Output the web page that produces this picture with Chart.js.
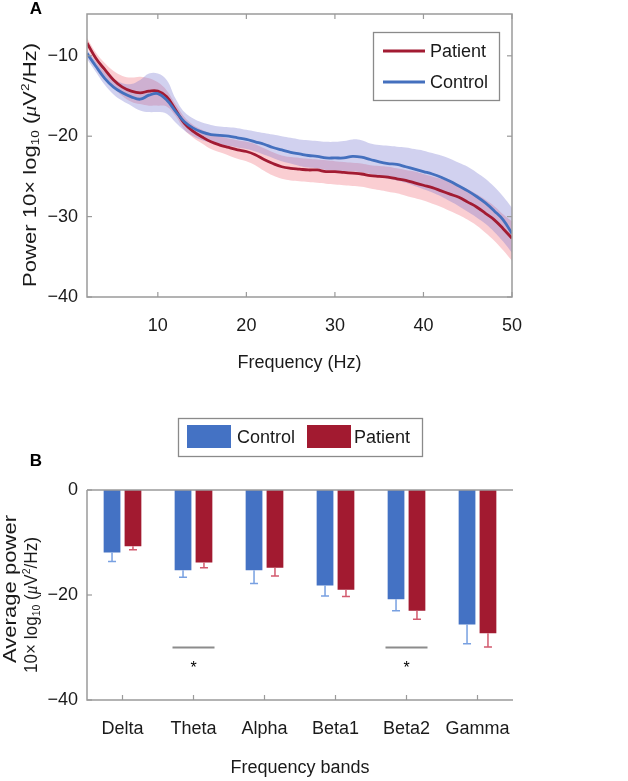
<!DOCTYPE html>
<html><head><meta charset="utf-8">
<script src="https://cdn.jsdelivr.net/npm/chart.js@4.4.0/dist/chart.umd.min.js"></script>
<style>
html,body{margin:0;padding:0;background:#fff;}
#wrapA{position:absolute;left:0;top:0;width:628px;height:395px;}
#wrapB{position:absolute;left:0;top:400px;width:628px;height:381px;}
</style></head><body>
<div id="wrapA"><canvas id="cA" width="628" height="395"></canvas></div>
<div id="wrapB"><canvas id="cB" width="628" height="381"></canvas></div>
<script>
// ---------- Panel A data ----------
const freqs = [2,3,4,5,6,7,8,9,10,11,12,13,14,15,16,17,18,19,20,21,22,23,24,25,26,27,28,29,30,31,32,33,34,35,36,37,38,39,40,41,42,43,44,45,46,47,48,49,50];
const patientMean = [-8.4,-10.3,-11.7,-13.0,-13.9,-14.4,-14.6,-14.4,-14.4,-15.1,-16.7,-18.4,-19.4,-20.1,-20.7,-21.1,-21.4,-21.7,-21.9,-22.3,-22.9,-23.4,-23.8,-24.0,-24.1,-24.2,-24.2,-24.4,-24.4,-24.5,-24.6,-24.7,-24.9,-25.0,-25.1,-25.3,-25.5,-25.8,-26.1,-26.4,-26.8,-27.2,-27.6,-28.2,-28.8,-29.6,-30.4,-31.5,-32.7];
const patientUpper = [-7.8,-9.6,-10.9,-11.9,-12.5,-12.7,-12.6,-12.8,-13.3,-14.3,-16.0,-17.6,-18.6,-19.2,-19.7,-20.0,-20.3,-20.5,-20.7,-21.0,-21.5,-22.0,-22.4,-22.6,-22.7,-22.8,-22.9,-23.0,-23.1,-23.2,-23.3,-23.4,-23.6,-23.7,-23.8,-24.0,-24.2,-24.4,-24.7,-25.0,-25.3,-25.7,-26.1,-26.6,-27.2,-27.9,-28.7,-29.7,-30.6];
const patientLower = [-9.0,-11.0,-12.5,-13.9,-15.0,-15.7,-16.0,-16.2,-16.2,-16.3,-17.5,-19.2,-20.2,-20.9,-21.6,-22.0,-22.4,-22.8,-23.1,-23.6,-24.3,-24.9,-25.3,-25.5,-25.6,-25.7,-25.8,-25.9,-26.0,-26.1,-26.2,-26.3,-26.5,-26.7,-26.9,-27.1,-27.4,-27.7,-28.0,-28.4,-28.8,-29.3,-29.8,-30.4,-31.1,-32.0,-33.0,-34.2,-35.5];
const controlMean = [-9.7,-11.3,-12.8,-13.9,-14.6,-15.1,-15.4,-14.9,-14.7,-15.5,-16.9,-18.2,-19.0,-19.5,-19.8,-19.9,-20.0,-20.2,-20.4,-20.7,-21.0,-21.4,-21.7,-22.0,-22.2,-22.4,-22.5,-22.7,-22.7,-22.7,-22.5,-22.6,-22.9,-23.2,-23.4,-23.5,-23.8,-24.1,-24.4,-24.7,-25.1,-25.6,-26.2,-26.8,-27.5,-28.3,-29.3,-30.4,-32.1];
const controlUpper = [-9.2,-10.7,-12.0,-12.9,-13.4,-13.5,-13.0,-12.2,-12.2,-13.0,-15.3,-17.0,-17.8,-18.3,-18.6,-18.8,-18.9,-19.0,-19.2,-19.4,-19.6,-19.8,-20.0,-20.2,-20.4,-20.5,-20.6,-20.7,-20.7,-20.6,-20.4,-20.5,-20.9,-21.1,-21.2,-21.3,-21.4,-21.6,-21.8,-22.1,-22.4,-22.8,-23.3,-23.8,-24.5,-25.3,-26.3,-27.5,-28.9];
const controlLower = [-10.4,-12.0,-13.6,-14.8,-15.6,-16.2,-16.8,-17.0,-17.0,-17.2,-18.3,-19.3,-20.0,-20.5,-20.8,-21.0,-21.2,-21.4,-21.6,-21.9,-22.3,-22.7,-23.1,-23.4,-23.7,-23.9,-24.0,-24.2,-24.3,-24.4,-24.4,-24.5,-24.7,-25.0,-25.3,-25.5,-25.8,-26.2,-26.6,-27.0,-27.5,-28.1,-28.7,-29.4,-30.1,-30.9,-31.9,-33.1,-34.5];
const xTicksA = [10,20,30,40,50];
const yTicksA = [-40,-30,-20,-10];

// ---------- Panel B data ----------
const bandLabels = ['Delta','Theta','Alpha','Beta1','Beta2','Gamma'];
const controlPower = [-11.9,-15.3,-15.3,-18.2,-20.8,-25.6];
const controlErr = [1.7,1.3,2.5,2.0,2.2,3.7];
const patientPower = [-10.7,-13.8,-14.8,-19.0,-23.0,-27.3];
const patientErr = [0.7,1.0,1.6,1.3,1.6,2.6];
const sigBands = ['Theta','Beta2'];
const sigLineLevel = -30;
const sigStarLevel = -33.5;
const yTicksB = [-40,-20,0];

// ---------- styling ----------
const FF = '"Liberation Sans", Arial, Helvetica, sans-serif';
const FS = '"Liberation Serif", "DejaVu Serif", serif';
const RED = 'rgb(162,27,50)';
const BLUE = 'rgb(68,112,190)';
const BAR_BLUE = 'rgb(68,114,196)';
const BAR_RED = 'rgb(162,26,48)';
const AXIS = '#9a9a9a';
const TXT = '#1a1a1a';
const fmt = v => (v < 0 ? '\u2212' + Math.abs(v) : String(v));
const pts = arr => arr.map((y,i)=>({x:freqs[i], y}));

// rich rotated title: segments [text, kind]
const unitSegs = [['10\u00d7 log',''],['10','sub'],[' (',''],['\u03bc','it'],['V',''],['2','sup'],['/Hz)','']];
function drawRotatedRich(ctx, segs, cx, cy, size, targetLen){
  ctx.save();
  const fontOf = k => k==='sub'||k==='sup' ? (Math.round(size*0.62))+'px '+FF : (k==='it' ? 'italic '+size+'px '+FS : size+'px '+FF);
  let w = 0;
  segs.forEach(s=>{ ctx.font = fontOf(s[1]); w += ctx.measureText(s[0]).width; });
  const sx = targetLen / w;
  ctx.translate(cx, cy); ctx.rotate(-Math.PI/2); ctx.scale(sx, 1);
  let x = -w/2;
  ctx.fillStyle = TXT; ctx.textBaseline = 'middle'; ctx.textAlign = 'left';
  segs.forEach(s=>{
    ctx.font = fontOf(s[1]);
    const dy = s[1]==='sub' ? size*0.28 : (s[1]==='sup' ? -size*0.3 : 0);
    ctx.fillText(s[0], x, dy);
    x += ctx.measureText(s[0]).width;
  });
  ctx.restore();
}

function inwardTicks(ctx, scale, len, side, area){
  ctx.save(); ctx.strokeStyle = AXIS; ctx.lineWidth = 1.2;
  scale.ticks.forEach(t=>{
    const p = scale.getPixelForValue(t.value);
    ctx.beginPath();
    if (side==='left'){ ctx.moveTo(area.left, p); ctx.lineTo(area.left+len, p); }
    if (side==='right'){ ctx.moveTo(area.right, p); ctx.lineTo(area.right-len, p); }
    if (side==='bottom'){ ctx.moveTo(p, area.bottom); ctx.lineTo(p, area.bottom-len); }
    if (side==='top'){ ctx.moveTo(p, area.top); ctx.lineTo(p, area.top+len); }
    ctx.stroke();
  });
  ctx.restore();
}

const frameA = {
  id:'frameA',
  afterDatasetsDraw(chart){
    const {ctx, chartArea:a, scales} = chart;
    ctx.save();
    ctx.strokeStyle = AXIS; ctx.lineWidth = 1.5;
    ctx.strokeRect(a.left, a.top, a.right-a.left, a.bottom-a.top);
    ctx.restore();
    inwardTicks(ctx, scales.y, 5, 'left', a);
    inwardTicks(ctx, scales.y, 5, 'right', a);
    inwardTicks(ctx, scales.x, 5, 'bottom', a);
    inwardTicks(ctx, scales.x, 5, 'top', a);
    // legend
    ctx.save();
    const lx = 373.5, ly = 32.5, lw = 126, lh = 68;
    ctx.fillStyle = '#fff'; ctx.fillRect(lx, ly, lw, lh);
    ctx.strokeStyle = '#8a8a8a'; ctx.lineWidth = 1.3; ctx.strokeRect(lx, ly, lw, lh);
    const items = chart.data.datasets.filter(d=>d.legendItem).sort((p,q)=>p.legendItem-q.legendItem);
    items.forEach((d,i)=>{
      const y = 51 + i*31;
      ctx.strokeStyle = d.borderColor; ctx.lineWidth = 3;
      ctx.beginPath(); ctx.moveTo(383, y); ctx.lineTo(425, y); ctx.stroke();
      ctx.fillStyle = TXT; ctx.font = '18px ' + FF; ctx.textBaseline = 'middle'; ctx.textAlign='left';
      ctx.fillText(d.label, 430, y+1);
    });
    // panel letter
    ctx.fillStyle = '#000'; ctx.font = 'bold 17px ' + FF; ctx.textAlign='center'; ctx.textBaseline='middle';
    ctx.fillText('A', 36, 9);
    ctx.restore();
    // y title
    drawRotatedRich(ctx, [['Power ','']].concat(unitSegs), 31, 165, 18, 244);
  }
};

new Chart(document.getElementById('cA'), {
  type:'line',
  data:{ datasets:[
    {label:'Control', data:pts(controlMean), borderColor:BLUE, borderWidth:2.8, pointRadius:0, fill:false, tension:0.4, order:0, legendItem:2},
    {label:'Patient', data:pts(patientMean), borderColor:RED, borderWidth:2.8, pointRadius:0, fill:false, tension:0.4, order:1, legendItem:1},
    {label:'Control upper', data:pts(controlUpper), borderWidth:0, pointRadius:0, backgroundColor:'rgba(115,115,205,0.33)', fill:'+1', tension:0.4, order:2},
    {label:'Control lower', data:pts(controlLower), borderWidth:0, pointRadius:0, fill:false, tension:0.4, order:3},
    {label:'Patient upper', data:pts(patientUpper), borderWidth:0, pointRadius:0, backgroundColor:'rgba(240,105,118,0.33)', fill:'+1', tension:0.4, order:4},
    {label:'Patient lower', data:pts(patientLower), borderWidth:0, pointRadius:0, fill:false, tension:0.4, order:5}
  ]},
  options:{
    responsive:false, animation:false, devicePixelRatio:1,
    layout:{padding:{left:0, top:14, right:116, bottom:0}},
    plugins:{legend:{display:false}, tooltip:{enabled:false}},
    scales:{
      x:{type:'linear', min:2, max:50,
         afterBuildTicks:s=>{s.ticks = xTicksA.map(v=>({value:v}));},
         afterFit:s=>{s.height = 395-297; s.paddingLeft = 0; s.paddingRight = 0;},
         grid:{display:false, drawTicks:false}, border:{display:false},
         ticks:{padding:18, color:TXT, font:{family:FF, size:18}, callback:v=>fmt(v), maxRotation:0},
         title:{display:true, text:'Frequency (Hz)', color:TXT, font:{family:FF, size:18}, padding:{top:0, bottom:21}}},
      y:{type:'linear', min:-40, max:-4.8,
         afterBuildTicks:s=>{s.ticks = yTicksA.map(v=>({value:v}));},
         afterFit:s=>{s.width = 87; s.paddingTop = 0; s.paddingBottom = 0;},
         grid:{display:false, drawTicks:false}, border:{display:false},
         ticks:{padding:9, color:TXT, font:{family:FF, size:18}, callback:v=>fmt(v)},
         title:{display:false}}
    }
  },
  plugins:[frameA]
});

// ---------- Panel B ----------
const barExtras = {
  id:'barExtras',
  afterDatasetsDraw(chart){
    const {ctx, chartArea:a, scales:{x, y}} = chart;
    // error bars
    chart.data.datasets.forEach((d, di)=>{
      const meta = chart.getDatasetMeta(di);
      ctx.save(); ctx.strokeStyle = d.errColor; ctx.lineWidth = 1.5;
      meta.data.forEach((el, i)=>{
        const v = d.data[i], e = d.errors[i];
        const y2 = y.getPixelForValue(v - e);
        ctx.beginPath(); ctx.moveTo(el.x, el.y); ctx.lineTo(el.x, y2);
        ctx.moveTo(el.x-4, y2); ctx.lineTo(el.x+4, y2); ctx.stroke();
      });
      ctx.restore();
    });
    // axes
    ctx.save(); ctx.strokeStyle = AXIS; ctx.lineWidth = 1.5;
    const y0 = y.getPixelForValue(0);
    ctx.beginPath();
    ctx.moveTo(a.left, y0); ctx.lineTo(a.right, y0);
    ctx.moveTo(a.left, a.top); ctx.lineTo(a.left, a.bottom); ctx.lineTo(a.right, a.bottom);
    ctx.stroke();
    ctx.restore();
    inwardTicks(ctx, y, 5, 'left', a);
    inwardTicks(ctx, x, 5, 'bottom', a);
    // significance
    ctx.save();
    sigBands.forEach(b=>{
      const cx = x.getPixelForValue(bandLabels.indexOf(b));
      const yl = y.getPixelForValue(sigLineLevel);
      ctx.strokeStyle = '#8c8c8c'; ctx.lineWidth = 2;
      ctx.beginPath(); ctx.moveTo(cx-21, yl); ctx.lineTo(cx+21, yl); ctx.stroke();
      ctx.fillStyle = '#000'; ctx.font = '16px ' + FF; ctx.textAlign='center'; ctx.textBaseline='middle';
      ctx.fillText('*', cx, y.getPixelForValue(sigStarLevel)+3);
    });
    // legend
    ctx.fillStyle='#fff'; ctx.fillRect(178.5, 18.5, 244, 38);
    ctx.strokeStyle = '#8a8a8a'; ctx.lineWidth = 1.3; ctx.strokeRect(178.5, 18.5, 244, 38);
    const pos = [[187, 237],[307, 354]];
    chart.data.datasets.forEach((d, i)=>{
      ctx.fillStyle = d.backgroundColor; ctx.fillRect(pos[i][0], 25, 44, 23);
      ctx.fillStyle = TXT; ctx.font = '18px ' + FF; ctx.textAlign='left'; ctx.textBaseline='middle';
      ctx.fillText(d.label, pos[i][1], 38);
    });
    ctx.fillStyle = '#000'; ctx.font = 'bold 17px ' + FF; ctx.textAlign='center'; ctx.textBaseline='middle';
    ctx.fillText('B', 36, 61);
    ctx.restore();
    // y title (two lines)
    drawRotatedRich(ctx, [['Average power','']], 11, 189, 18, 148);
    drawRotatedRich(ctx, unitSegs, 32, 205, 18, 136);
  }
};

new Chart(document.getElementById('cB'), {
  type:'bar',
  data:{ labels:bandLabels, datasets:[
    {label:'Control', data:controlPower, errors:controlErr, backgroundColor:BAR_BLUE, errColor:'rgb(120,160,225)', categoryPercentage:0.59, barPercentage:0.8},
    {label:'Patient', data:patientPower, errors:patientErr, backgroundColor:BAR_RED, errColor:'rgb(210,90,110)', categoryPercentage:0.59, barPercentage:0.8}
  ]},
  options:{
    responsive:false, animation:false, devicePixelRatio:1,
    layout:{padding:{left:0, top:90, right:115, bottom:0}},
    plugins:{legend:{display:false}, tooltip:{enabled:false}},
    scales:{
      x:{afterFit:s=>{s.height = 381-300;},
         grid:{display:false, drawTicks:false}, border:{display:false},
         ticks:{padding:18, color:TXT, font:{family:FF, size:18}, maxRotation:0},
         title:{display:true, text:'Frequency bands', color:TXT, font:{family:FF, size:18}, padding:{top:0, bottom:2}}},
      y:{min:-40, max:0,
         afterBuildTicks:s=>{s.ticks = yTicksB.map(v=>({value:v}));},
         afterFit:s=>{s.width = 87;},
         grid:{display:false, drawTicks:false}, border:{display:false},
         ticks:{padding:9, color:TXT, font:{family:FF, size:18}, callback:v=>fmt(v)},
         title:{display:false}}
    }
  },
  plugins:[barExtras]
});
</script>
</body></html>
